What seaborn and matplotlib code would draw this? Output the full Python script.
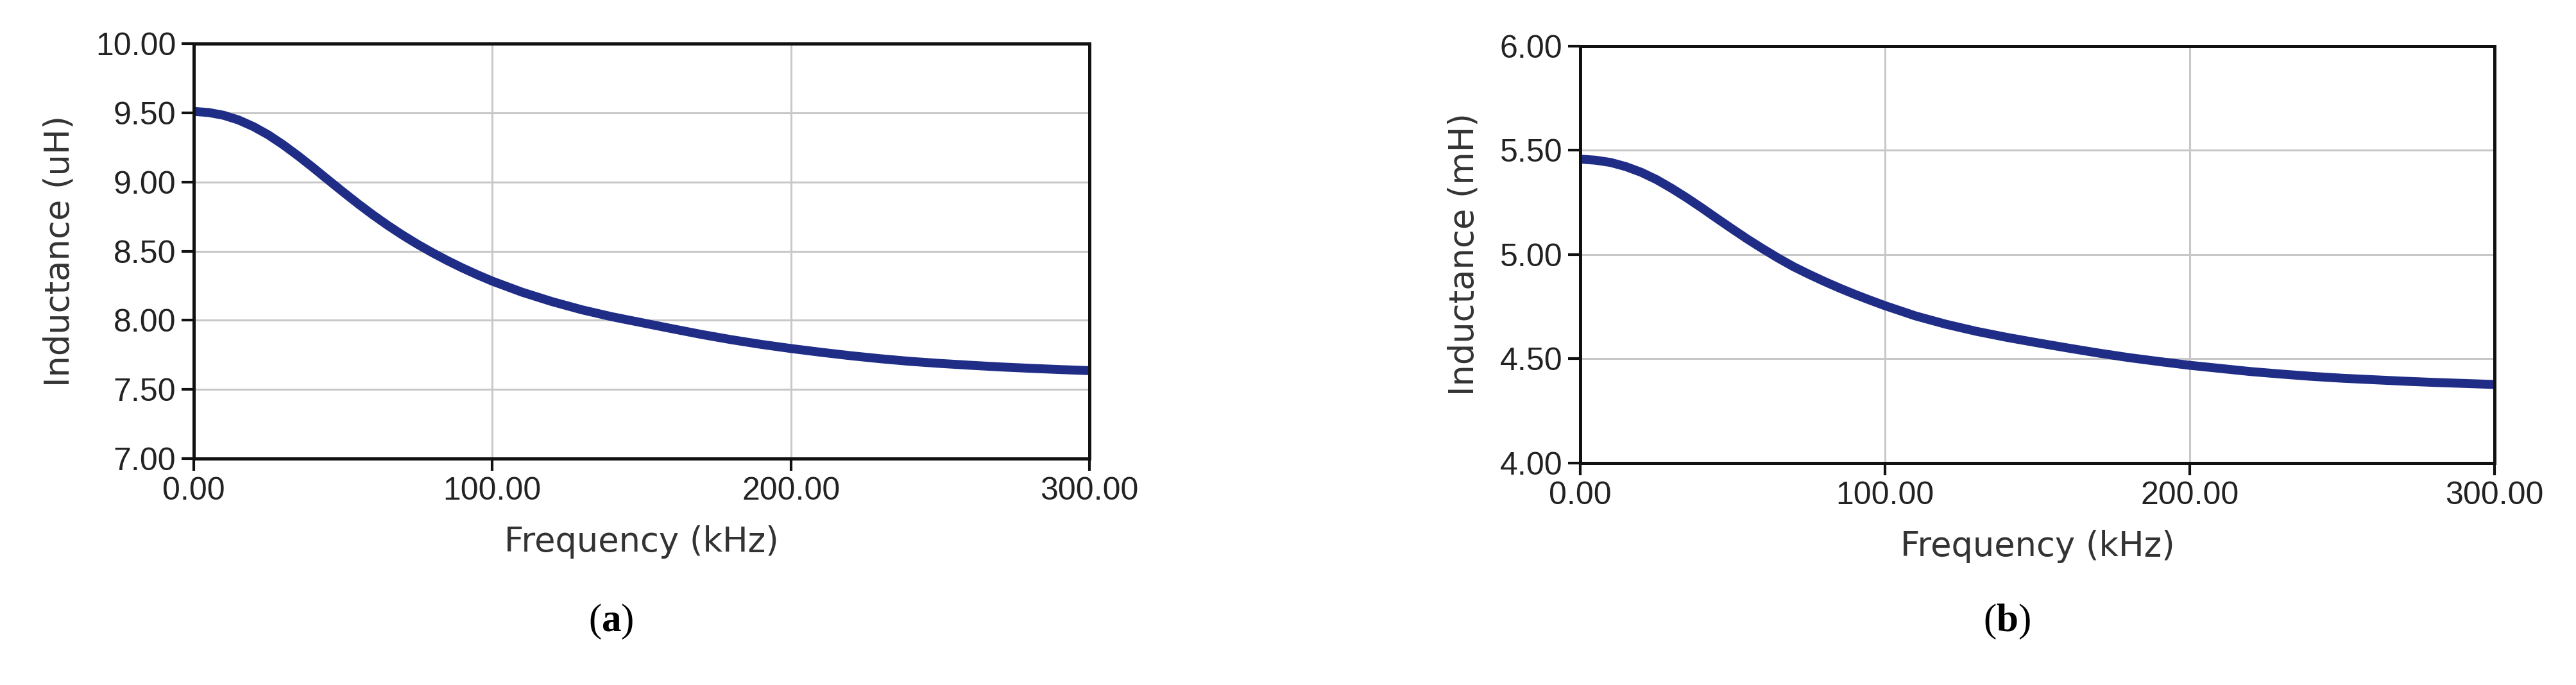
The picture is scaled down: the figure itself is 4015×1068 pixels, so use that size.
import matplotlib
matplotlib.use("Agg")
import matplotlib.pyplot as plt
import seaborn as sns
import pandas as pd
from matplotlib.ticker import FormatStrFormatter

# ---- data ----
freq_khz = [0, 5, 10, 15, 20, 25, 30, 35, 40, 45, 50, 55, 60, 65, 70, 75, 80, 85, 90, 95, 100,
            110, 120, 130, 140, 150, 160, 170, 180, 190, 200, 210, 220, 230, 240, 250, 260, 270,
            280, 290, 300]
ind_a_uH = [9.510, 9.502, 9.482, 9.448, 9.400, 9.340, 9.268, 9.188, 9.103, 9.015, 8.928, 8.843,
            8.762, 8.686, 8.615, 8.549, 8.488, 8.431, 8.378, 8.329, 8.283, 8.203, 8.135, 8.076,
            8.026, 7.983, 7.940, 7.898, 7.860, 7.826, 7.796, 7.769, 7.744, 7.722, 7.703, 7.688,
            7.675, 7.663, 7.653, 7.644, 7.636]
ind_b_mH = [5.458, 5.453, 5.442, 5.422, 5.395, 5.360, 5.318, 5.272, 5.223, 5.172, 5.122, 5.073,
            5.027, 4.983, 4.942, 4.906, 4.872, 4.840, 4.810, 4.782, 4.755, 4.706, 4.666, 4.632,
            4.603, 4.577, 4.552, 4.528, 4.506, 4.487, 4.469, 4.454, 4.439, 4.427, 4.416, 4.407,
            4.400, 4.393, 4.387, 4.382, 4.377]
x_ticks = [0, 100, 200, 300]
y_ticks_a = [7.0, 7.5, 8.0, 8.5, 9.0, 9.5, 10.0]
y_ticks_b = [4.0, 4.5, 5.0, 5.5, 6.0]
panel_labels = ["a", "b"]
y_labels = ["Inductance (uH)", "Inductance (mH)"]
x_label = "Frequency (kHz)"

df_a = pd.DataFrame({"f": freq_khz, "L": ind_a_uH})
df_b = pd.DataFrame({"f": freq_khz, "L": ind_b_mH})

sns.set_style("white")
plt.rcParams["font.family"] = ["Liberation Sans", "DejaVu Sans"]
plt.rcParams["mathtext.fontset"] = "custom"
plt.rcParams["mathtext.rm"] = "Liberation Serif"
plt.rcParams["mathtext.bf"] = "Liberation Serif:bold"

fig = plt.figure(figsize=(40.16, 10.68), dpi=100)
ax_a = fig.add_axes([0.0752, 0.3305, 0.3476, 0.6058])
ax_b = fig.add_axes([0.6133, 0.3240, 0.3548, 0.6086])

line_color = "#1f2d87"
tick_color = "#222222"

configs = [
    (ax_a, df_a, y_ticks_a, y_labels[0], 0.237),
    (ax_b, df_b, y_ticks_b, y_labels[1], 0.779),
]

for (ax, df, yt, ylab, px), plab in zip(configs, panel_labels):
    sns.lineplot(data=df, x="f", y="L", ax=ax, color=line_color, linewidth=10, sort=True)
    ax.set_xlim(x_ticks[0], x_ticks[-1])
    ax.set_ylim(yt[0], yt[-1])
    ax.set_xticks(x_ticks)
    ax.set_yticks(yt)
    ax.xaxis.set_major_formatter(FormatStrFormatter("%.2f"))
    ax.yaxis.set_major_formatter(FormatStrFormatter("%.2f"))
    ax.grid(True, color="#c8c8c8", linewidth=2.2)
    ax.set_axisbelow(True)
    for s in ax.spines.values():
        s.set_visible(True)
        s.set_color("#111111")
        s.set_linewidth(3.6)
    ax.tick_params(axis="both", which="major", direction="out", length=14, width=3,
                   color="#111111", labelsize=36, labelcolor=tick_color, pad=6,
                   bottom=True, left=True, top=False, right=False)
    ax.set_xlabel(x_label, fontsize=38, color="#333333", labelpad=22,
                  family=["DejaVu Sans"])
    ax.set_ylabel(ylab, fontsize=38, color="#333333", labelpad=22,
                  family=["DejaVu Sans"])
    fig.text(px, 0.092, "(" + r"$\mathbf{" + plab + r"}$" + ")", fontsize=44,
             family=["Liberation Serif"], ha="center", va="center", color="black")

fig.savefig("out.png", dpi=100, facecolor="white")
